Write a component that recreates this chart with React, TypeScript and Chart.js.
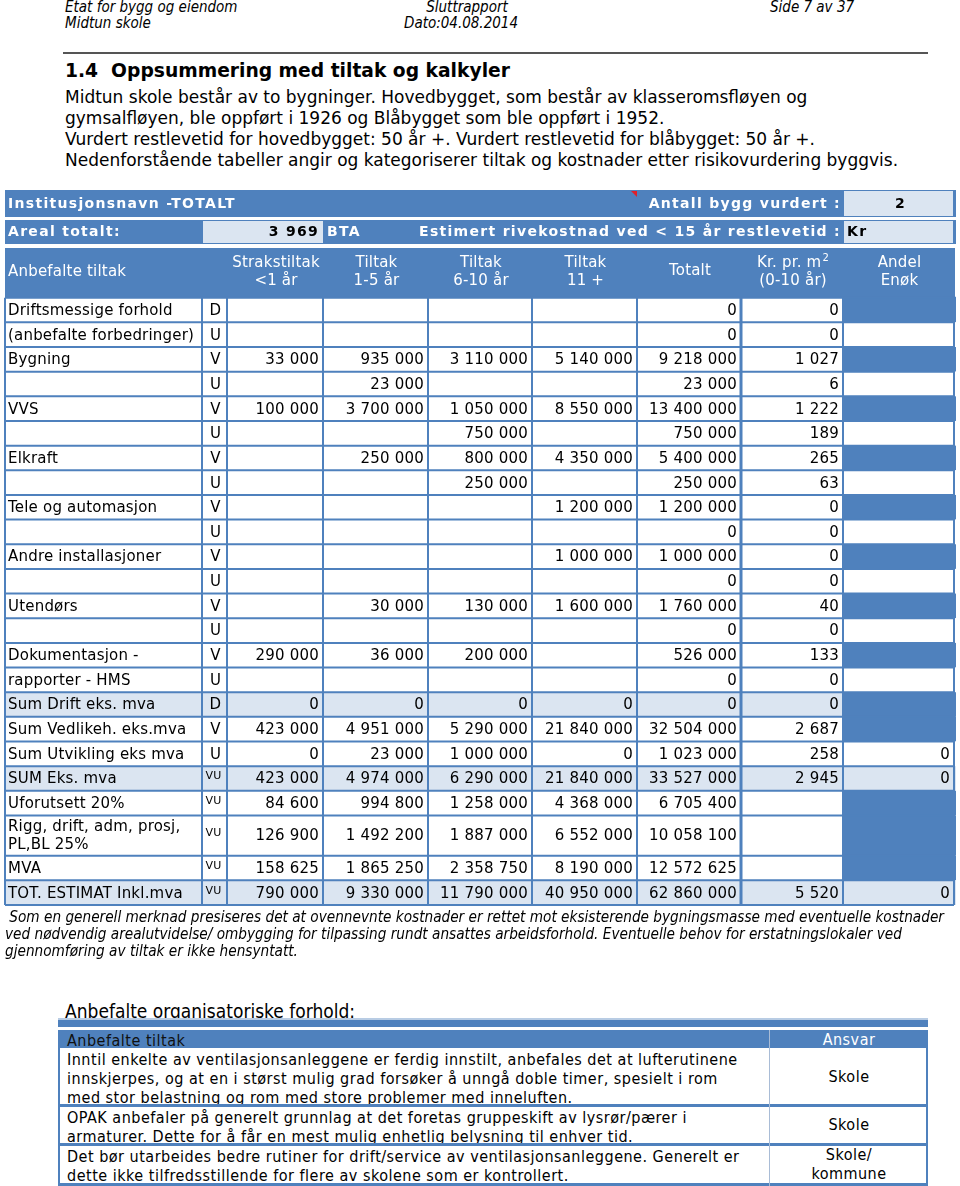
import React, { useEffect, useRef } from "react";
import { Chart, registerables } from "chart.js";

Chart.register(...registerables);

// ---------- DATA ----------
const rowLabels = [
  "Driftsmessige forhold",
  "(anbefalte forbedringer)",
  "Bygning",
  "",
  "VVS",
  "",
  "Elkraft",
  "",
  "Tele og automasjon",
  "",
  "Andre installasjoner",
  "",
  "Utendørs",
  "",
  "Dokumentasjon -",
  "rapporter - HMS",
  "Sum Drift eks. mva",
  "Sum Vedlikeh. eks.mva",
  "Sum Utvikling eks mva",
  "SUM Eks. mva",
  "Uforutsett 20%",
  "Rigg, drift, adm, prosj,\nPL,BL 25%",
  "MVA",
  "TOT. ESTIMAT Inkl.mva",
];
const rowCodes = ["D", "U", "V", "U", "V", "U", "V", "U", "V", "U", "V", "U", "V", "U", "V", "U", "D", "V", "U", "VU", "VU", "VU", "VU", "VU"];

const strakstiltak = [null, null, 33000, null, 100000, null, null, null, null, null, null, null, null, null, 290000, null, 0, 423000, 0, 423000, 84600, 126900, 158625, 790000];
const tiltak1til5 = [null, null, 935000, 23000, 3700000, null, 250000, null, null, null, null, null, 30000, null, 36000, null, 0, 4951000, 23000, 4974000, 994800, 1492200, 1865250, 9330000];
const tiltak6til10 = [null, null, 3110000, null, 1050000, 750000, 800000, 250000, null, null, null, null, 130000, null, 200000, null, 0, 5290000, 1000000, 6290000, 1258000, 1887000, 2358750, 11790000];
const tiltak11pluss = [null, null, 5140000, null, 8550000, null, 4350000, null, 1200000, null, 1000000, null, 1600000, null, null, null, 0, 21840000, 0, 21840000, 4368000, 6552000, 8190000, 40950000];
const totalt = [0, 0, 9218000, 23000, 13400000, 750000, 5400000, 250000, 1200000, 0, 1000000, 0, 1760000, 0, 526000, 0, 0, 32504000, 1023000, 33527000, 6705400, 10058100, 12572625, 62860000];
const krPrM2 = [0, 0, 1027, 6, 1222, 189, 265, 63, 0, 0, 0, 0, 40, 0, 133, 0, 0, 2687, 258, 2945, null, null, null, 5520];
// "x" = shaded cell, "" = empty cell
const andelEnok: (number | string)[] = ["x", "", "x", "", "x", "", "x", "", "x", "", "x", "", "x", "", "x", "", "x", "x", 0, 0, "x", "x", "x", 0];

const columnHeaders = [
  ["Strakstiltak", "<1 år"],
  ["Tiltak", "1-5 år"],
  ["Tiltak", "6-10 år"],
  ["Tiltak", "11 +"],
  ["Totalt"],
  ["Kr. pr. m", "(0-10 år)"],
  ["Andel", "Enøk"],
];

const institusjon = "Institusjonsnavn -TOTALT";
const antallBygg = 2;
const arealTotalt = 3969;

const paragraphLines = [
  "Midtun skole består av to bygninger. Hovedbygget, som består av klasseromsfløyen og",
  "gymsalfløyen, ble oppført i 1926 og Blåbygget som ble oppført i 1952.",
  "Vurdert restlevetid for hovedbygget: 50 år +. Vurdert restlevetid for blåbygget: 50 år +.",
  "Nedenforstående tabeller angir og kategoriserer tiltak og kostnader etter risikovurdering byggvis.",
];
const noteLines = [
  " Som en generell merknad presiseres det at ovennevnte kostnader er rettet mot eksisterende bygningsmasse med eventuelle kostnader",
  "ved nødvendig arealutvidelse/ ombygging for tilpassing rundt ansattes arbeidsforhold. Eventuelle behov for erstatningslokaler ved",
  "gjennomføring av tiltak er ikke hensyntatt.",
];
const orgTiltak = [
  [
    "Inntil enkelte av ventilasjonsanleggene er ferdig innstilt, anbefales det at lufterutinene",
    "innskjerpes, og at en i størst mulig grad forsøker å unngå doble timer, spesielt i rom",
    "med stor belastning og rom med store problemer med inneluften.",
  ],
  [
    "OPAK anbefaler på generelt grunnlag at det foretas gruppeskift av lysrør/pærer i",
    "armaturer. Dette for å får en mest mulig enhetlig belysning til enhver tid.",
  ],
  [
    "Det bør utarbeides bedre rutiner for drift/service av ventilasjonsanleggene. Generelt er",
    "dette ikke tilfredsstillende for flere av skolene som er kontrollert.",
  ],
];
const orgAnsvar = [["Skole"], ["Skole"], ["Skole/", "kommune"]];

// ---------- LAYOUT / STYLE ----------
const BLUE = "#4F81BD";
const LIGHT = "#DBE5F1";
const colWidths = [197, 25, 96, 105, 104, 105, 104, 102, 111];
const highlightRows = new Set(["Sum Drift eks. mva", "SUM Eks. mva", "TOT. ESTIMAT Inkl.mva"]);
const rowUnits = rowLabels.map((l) => (l.includes("\n") ? 1.63 : 1));

const FONT = "'DejaVu Sans', Verdana, sans-serif";
const COND = "'DejaVu Sans Condensed', 'DejaVu Sans', sans-serif";

const fmt = (v: number) => String(v).replace(/\B(?=(\d{3})+(?!\d))/g, " ");

const tablePlugin = {
  id: "costTable",
  afterDraw(chart: any) {
    const ctx: CanvasRenderingContext2D = chart.ctx;
    const xs = chart.scales.x;
    const ys = chart.scales.y;
    const edges: number[] = [0];
    colWidths.forEach((w) => edges.push(edges[edges.length - 1] + w));
    const cx = edges.map((e) => xs.getPixelForValue(e));
    const rowStart: number[] = [0];
    rowUnits.forEach((u) => rowStart.push(rowStart[rowStart.length - 1] + u));
    const ry = rowStart.map((r) => ys.getPixelForValue(r));
    const L = cx[0];
    const R = cx[cx.length - 1];
    const T = ry[0];
    const setLS = (v: string) => ((ctx as any).letterSpacing = v);

    ctx.save();
    ctx.textBaseline = "middle";

    // ---- header band 1 ----
    const b1t = T - 107.7, b1h = 27;
    ctx.fillStyle = BLUE;
    ctx.fillRect(L, b1t, R - L + 2, b1h);
    ctx.fillStyle = LIGHT;
    ctx.fillRect(cx[8] + 1, b1t + 1, R - cx[8] - 2, b1h - 2);
    // ---- header band 2 ----
    const b2t = T - 77.7, b2h = 24;
    ctx.fillStyle = BLUE;
    ctx.fillRect(L, b2t, R - L + 2, b2h);
    ctx.fillStyle = LIGHT;
    ctx.fillRect(cx[1] + 1, b2t + 1, cx[3] - cx[1] - 1, b2h - 2);
    ctx.fillRect(cx[8] + 1, b2t + 1, R - cx[8] - 2, b2h - 2);
    // red comment marker
    ctx.fillStyle = "#E0202A";
    ctx.beginPath();
    ctx.moveTo(cx[6] - 6, b1t + 1);
    ctx.lineTo(cx[6], b1t + 1);
    ctx.lineTo(cx[6], b1t + 7);
    ctx.closePath();
    ctx.fill();

    setLS("1.3px");
    ctx.font = `bold 14px ${FONT}`;
    ctx.fillStyle = "#ffffff";
    ctx.textAlign = "left";
    ctx.fillText(institusjon, L + 3, b1t + b1h / 2 + 1);
    ctx.textAlign = "right";
    ctx.fillText("Antall bygg vurdert :", cx[8] - 2, b1t + b1h / 2 + 1);
    ctx.textAlign = "left";
    ctx.fillText("Areal totalt:", L + 3, b2t + b2h / 2);
    ctx.fillText("BTA", cx[3] + 4, b2t + b2h / 2);
    ctx.textAlign = "right";
    ctx.fillText("Estimert rivekostnad ved < 15 år restlevetid :", cx[8] - 2, b2t + b2h / 2);
    ctx.fillStyle = "#000000";
    ctx.fillText(fmt(arealTotalt), cx[3] - 4, b2t + b2h / 2);
    ctx.textAlign = "left";
    ctx.fillText("Kr", cx[8] + 4, b2t + b2h / 2);
    ctx.textAlign = "center";
    ctx.fillText(String(antallBygg), (cx[8] + R) / 2 + 2, b1t + b1h / 2 + 1);
    setLS("0.2px");

    // ---- column header row ----
    const hrt = T - 49.7;
    ctx.fillStyle = BLUE;
    ctx.fillRect(L, hrt, R - L + 1, T - hrt);
    ctx.font = `15px ${FONT}`;
    ctx.fillStyle = "#ffffff";
    ctx.textAlign = "left";
    ctx.fillText("Anbefalte tiltak", L + 3, hrt + 24);
    columnHeaders.forEach((lines, i) => {
      const mid = (cx[i + 2] + cx[i + 3]) / 2 + 1;
      if (lines.length === 1) {
        ctx.textAlign = "center";
        ctx.fillText(lines[0], mid, hrt + 23);
        return;
      }
      lines.forEach((t, k) => {
        const y = hrt + 15 + k * 18;
        if (k === 0 && t.endsWith(" m")) {
          ctx.font = `15px ${FONT}`;
          const w = ctx.measureText(t).width;
          ctx.font = `10px ${FONT}`;
          const w2 = ctx.measureText("2").width;
          const start = mid - (w + w2 + 1) / 2;
          ctx.textAlign = "left";
          ctx.fillText("2", start + w + 1, y - 5);
          ctx.font = `15px ${FONT}`;
          ctx.fillText(t, start, y);
        } else {
          ctx.textAlign = "center";
          ctx.fillText(t, mid, y);
        }
      });
    });

    // ---- data rows ----
    const cols = [strakstiltak, tiltak1til5, tiltak6til10, tiltak11pluss, totalt, krPrM2];
    rowLabels.forEach((label, r) => {
      const top = ry[r], bot = ry[r + 1];
      const mid = (top + bot) / 2 + 1;
      const hl = highlightRows.has(label);
      ctx.fillStyle = hl ? LIGHT : "#ffffff";
      ctx.fillRect(L, top, cx[8] - L, bot - top);
      const a = andelEnok[r];
      ctx.fillStyle = a === "x" ? BLUE : hl ? LIGHT : "#ffffff";
      ctx.fillRect(cx[8], top, R - cx[8] + 2, bot - top);

      ctx.fillStyle = "#000000";
      ctx.font = `15px ${FONT}`;
      ctx.textAlign = "left";
      const parts = label.split("\n");
      parts.forEach((p, k) => {
        ctx.fillText(p, L + 3, mid + (k - (parts.length - 1) / 2) * 18);
      });
      const code = rowCodes[r];
      ctx.textAlign = "center";
      if (code.length > 1) {
        ctx.font = `11px ${FONT}`;
        ctx.fillText(code, (cx[1] + cx[2]) / 2 - 1, mid - 3);
        ctx.font = `15px ${FONT}`;
      } else {
        ctx.fillText(code, (cx[1] + cx[2]) / 2 + 1, mid);
      }
      ctx.textAlign = "right";
      cols.forEach((arr, c) => {
        const v = arr[r];
        if (v !== null && v !== undefined) ctx.fillText(fmt(v as number), cx[c + 3] - 4, mid);
      });
      if (typeof a === "number") ctx.fillText(fmt(a), R - 4, mid);
    });
    setLS("0px");

    // ---- grid ----
    ctx.strokeStyle = BLUE;
    ctx.lineWidth = 2;
    ctx.beginPath();
    ry.forEach((y, i) => {
      ctx.moveTo(L, y);
      ctx.lineTo(i === 0 ? R + 2 : R, y);
    });
    cx.forEach((x) => {
      ctx.moveTo(x, T);
      ctx.lineTo(x, ry[ry.length - 1]);
    });
    ctx.stroke();
    ctx.lineWidth = 3;
    ctx.beginPath();
    ctx.moveTo(cx[7], T);
    ctx.lineTo(cx[7], ry[ry.length - 1]);
    ctx.stroke();
    ctx.restore();
  },
};

function CostTable() {
  const ref = useRef<HTMLCanvasElement>(null);
  useEffect(() => {
    if (!ref.current) return;
    const total = rowUnits.reduce((s, u) => s + u, 0);
    const sumW = colWidths.reduce((s, w) => s + w, 0);
    const chart = new Chart(ref.current, {
      type: "scatter",
      data: { datasets: [] },
      options: {
        animation: false,
        responsive: false,
        devicePixelRatio: 1,
        layout: { padding: { left: 5, right: 6, top: 112.7, bottom: 5 } },
        scales: {
          x: { type: "linear", min: 0, max: sumW, display: false },
          y: { type: "linear", min: 0, max: total, reverse: true, display: false },
        },
        plugins: { legend: { display: false }, tooltip: { enabled: false } },
      },
      plugins: [tablePlugin],
    } as any);
    return () => chart.destroy();
  }, []);
  return (
    <canvas
      ref={ref}
      width={960}
      height={725}
      style={{ position: "absolute", left: 0, top: 185, width: 960, height: 725 }}
    />
  );
}

function Txt(props: { x: number; y: number; size: number; lh?: number; center?: boolean; style?: React.CSSProperties; children: React.ReactNode }) {
  const lh = props.lh ?? Math.round(props.size * 1.3);
  const pos: React.CSSProperties = props.center
    ? { left: props.x - 200, width: 400, textAlign: "center" }
    : { left: props.x };
  return (
    <div
      style={{
        position: "absolute",
        ...pos,
        top: props.y - lh / 2,
        fontSize: props.size,
        lineHeight: `${lh}px`,
        whiteSpace: "pre",
        ...props.style,
      }}
    >
      {props.children}
    </div>
  );
}

export default function App() {
  const hdr: React.CSSProperties = { fontFamily: COND, fontStyle: "italic", fontStretch: "condensed" };
  const cond: React.CSSProperties = { fontFamily: COND, fontStretch: "condensed" };
  const orgTxt: React.CSSProperties = { ...cond, letterSpacing: "0.5px" };
  const body: React.CSSProperties = { fontFamily: FONT };
  const orgRowTops = [1048, 1105, 1144, 1184];
  return (
    <div style={{ position: "absolute", left: 0, top: 0, width: 960, height: 1186, background: "#fff", overflow: "hidden", color: "#000" }}>
      <Txt x={65} y={7} size={15} style={hdr}>Etat for bygg og eiendom</Txt>
      <Txt x={65} y={23} size={15} style={hdr}>Midtun skole</Txt>
      <Txt x={467} y={7} size={15} center style={hdr}>Sluttrapport</Txt>
      <Txt x={461} y={23} size={15} center style={hdr}>Dato:04.08.2014</Txt>
      <Txt x={770} y={7} size={15} style={hdr}>Side 7 av 37</Txt>
      <div style={{ position: "absolute", left: 63, top: 52, width: 865, height: 1.5, background: "#555" }} />

      <Txt x={65} y={71} size={18.7} style={{ ...body, fontWeight: "bold" }}>1.4  Oppsummering med tiltak og kalkyler</Txt>
      {paragraphLines.map((l, i) => (
        <Txt key={i} x={65} y={97 + i * 21} size={17} lh={21} style={body}>{l}</Txt>
      ))}

      <CostTable />

      {noteLines.map((l, i) => (
        <Txt key={i} x={5} y={917 + i * 17} size={15.2} lh={17} style={hdr}>{l}</Txt>
      ))}

      <Txt x={65} y={1011} size={19} style={cond}>Anbefalte organisatoriske forhold:</Txt>
      {/* org table */}
      <div style={{ position: "absolute", left: 58, top: 1018, width: 870, height: 2, background: "#B8CCE4" }} />
      <div style={{ position: "absolute", left: 58, top: 1020, width: 870, height: 7, background: BLUE }} />
      <div style={{ position: "absolute", left: 58, top: 1030, width: 870, height: 18, background: BLUE }} />
      <Txt x={67} y={1040} size={16} lh={19} style={{ ...orgTxt, color: "#111" }}>Anbefalte tiltak</Txt>
      <div style={{ position: "absolute", left: 770, top: 1030, width: 158, textAlign: "center", ...orgTxt, fontSize: 16, lineHeight: "19px", color: "#fff" }}>Ansvar</div>
      {orgTiltak.map((lines, i) => {
        const top = orgRowTops[i];
        const bot = orgRowTops[i + 1];
        const firstY = [1059, 1117, 1156][i];
        const ans = orgAnsvar[i];
        return (
          <React.Fragment key={i}>
            {lines.map((l, k) => (
              <Txt key={k} x={67} y={firstY + k * 19.2} size={16} lh={19} style={orgTxt}>{l}</Txt>
            ))}
            {ans.map((a, k) => (
              <div key={"a" + k} style={{ position: "absolute", left: 770, width: 158, textAlign: "center", top: (top + bot) / 2 - (ans.length * 19) / 2 + k * 19, fontSize: 16, lineHeight: "19px", ...orgTxt }}>{a}</div>
            ))}
            <div style={{ position: "absolute", left: 58, top: bot - 1, width: 870, height: 2.5, background: BLUE }} />
          </React.Fragment>
        );
      })}
      <div style={{ position: "absolute", left: 58, top: 1048, width: 2, height: 138, background: BLUE }} />
      <div style={{ position: "absolute", left: 926, top: 1048, width: 2, height: 138, background: BLUE }} />
      <div style={{ position: "absolute", left: 769, top: 1030, width: 1, height: 156, background: "#A9BCD6" }} />
    </div>
  );
}
